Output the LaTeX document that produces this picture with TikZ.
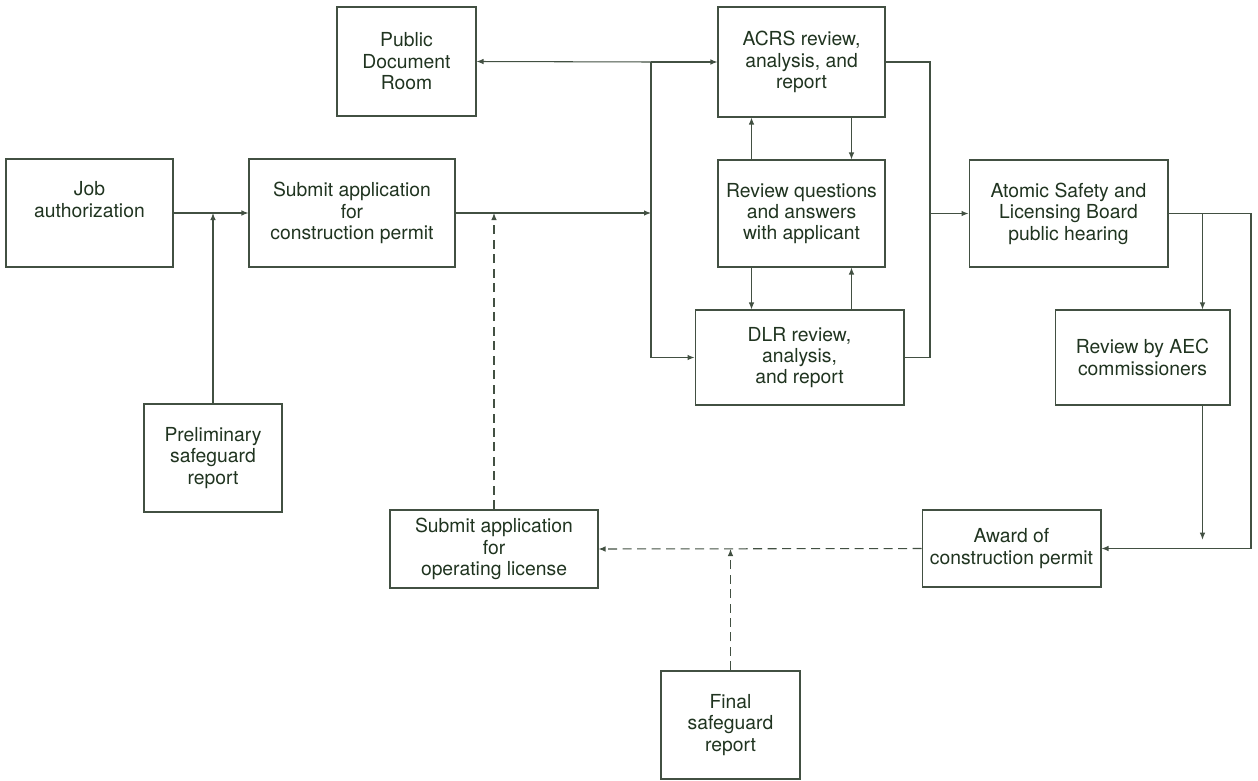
\documentclass[tikz,border=0pt]{standalone}
\usepackage{fontspec}
\setmainfont{TeX Gyre Heros}
\usepackage{tikz}
\usetikzlibrary{arrows.meta,positioning,calc}
\definecolor{inkgreen}{RGB}{32,52,32}
\definecolor{linegray}{RGB}{66,80,66}
\tikzset{
  blk/.style={draw=linegray, line width=0.6pt, align=center, inner sep=2pt,
      text=inkgreen, font=\fontsize{11}{12.2}\selectfont},
  flow/.style={-{Latex[length=1.4mm,width=1.1mm]}, linegray, line width=0.6pt},
  wire/.style={linegray, line width=0.6pt},
  dflow/.style={flow, dash pattern=on 1.8mm off 1.1mm},
}

\begin{document}
\begin{tikzpicture}[x=0.02cm, y=-0.02cm]
  \useasboundingbox (0,0) rectangle (1258,781);
  % boxes
  \node[blk, minimum width=3.34cm, minimum height=2.16cm] (job) at (89.5,213) {Job\\authorization\\[3pt]};
  \node[blk, minimum width=4.12cm, minimum height=2.16cm] (subcp) at (352,213) {Submit application\\for\\construction permit};
  \node[blk, minimum width=2.78cm, minimum height=2.18cm] (pdr) at (406.5,61.5) {Public\\Document\\Room};
  \node[blk, minimum width=3.34cm, minimum height=2.2cm] (acrs) at (801.5,62) {ACRS review,\\analysis, and\\report};
  \node[blk, minimum width=3.34cm, minimum height=2.14cm] (rq) at (801.5,213.5) {Review questions\\and answers\\with applicant};
  \node[blk, minimum width=4.18cm, minimum height=1.9cm] (dlr) at (799.5,357.5) {DLR review,\\analysis,\\and report};
  \node[blk, minimum width=3.98cm, minimum height=2.14cm] (asl) at (1068.5,213.5) {Atomic Safety and\\Licensing Board\\public hearing};
  \node[blk, minimum width=3.5cm, minimum height=1.9cm] (aec) at (1142.5,357.5) {Review by AEC\\commissioners};
  \node[blk, minimum width=2.76cm, minimum height=2.16cm] (prelim) at (213,458) {Preliminary\\safeguard\\report};
  \node[blk, minimum width=4.16cm, minimum height=1.56cm] (subol) at (494,549) {Submit application\\for\\operating license};
  \node[blk, minimum width=3.58cm, minimum height=1.54cm] (award) at (1011.5,548.5) {Award of\\construction permit};
  \node[blk, minimum width=2.78cm, minimum height=2.16cm] (final) at (730.5,725) {Final\\safeguard\\report};

  \coordinate (busT) at (651,62);
  \coordinate (busB) at (651,357.5);
  \coordinate (rbus) at (930,213.5);
  \coordinate (rcor) at (1251,213.5);

  % construction permit path
  \draw[flow] (job.east) -- (subcp.west);
  \draw[flow] (prelim.north) -- (prelim.north |- job.east);
  \draw[flow] (subcp.east) -- (subcp.east -| busT);
  \draw[wire] (busT) -- (busB);
  \draw[flow] (busT) -- (pdr.east);
  \draw[flow] (busT) -- (acrs.west);
  \draw[flow] (busB) -- (dlr.west);
  \draw[dflow] (subol.north) -- (subol.north |- subcp.east);

  % review loop
  \draw[flow] ([xshift=-1cm]rq.north) -- ([xshift=-1cm]acrs.south);
  \draw[flow] ([xshift=1cm]acrs.south) -- ([xshift=1cm]rq.north);
  \draw[flow] ([xshift=-1cm]rq.south) -- ([xshift=-1cm]rq.south |- dlr.north);
  \draw[flow] ([xshift=1cm]rq.south |- dlr.north) -- ([xshift=1cm]rq.south);

  % hearing and award
  \draw[wire] (acrs.east) -- (acrs.east -| rbus) -- (dlr.east -| rbus) -- (dlr.east);
  \draw[flow] (rbus) -- (asl.west);
  \draw[flow] (asl.east) -- (rcor) |- (award.east);
  \draw[flow] ([xshift=1.2cm]aec.north |- asl.east) -- ([xshift=1.2cm]aec.north);
  \draw[flow, shorten >=5pt] ([xshift=1.2cm]aec.south) -- ([xshift=1.2cm]aec.south |- award.east);

  % operating license
  \draw[dflow] (award.west) -- (subol.east);
  \draw[dflow] (final.north) -- (final.north |- subol.east);
\end{tikzpicture}
\end{document}
